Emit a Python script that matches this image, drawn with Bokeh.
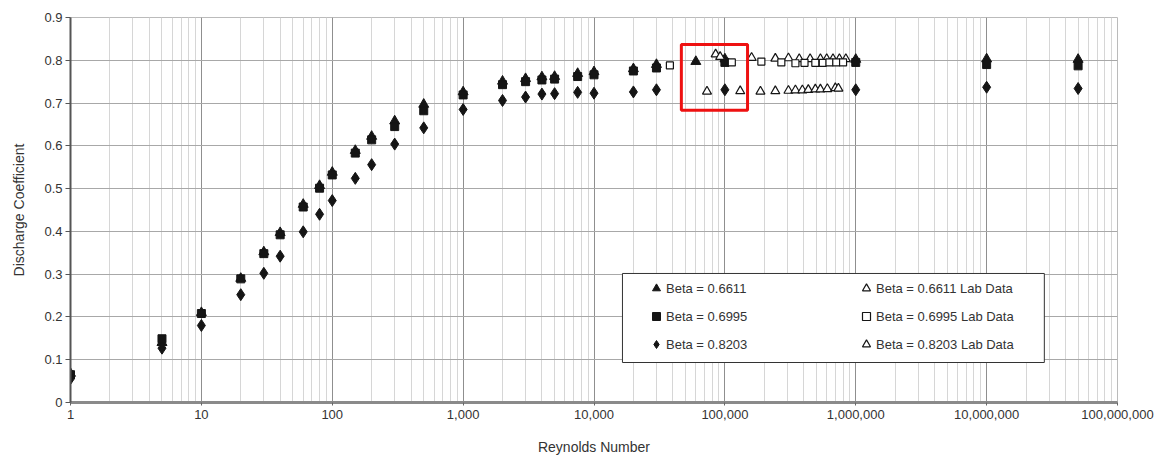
from bokeh.plotting import figure
from bokeh.models import (Range1d, FixedTicker, NumeralTickFormatter, Legend,
                          LegendItem, BoxAnnotation)
from bokeh.embed import file_html
from bokeh.resources import INLINE

# ---------------- data ----------------
re_0661 = [1, 5, 10, 20, 30, 40, 60, 80, 100, 150, 200, 300, 500, 1000, 2000, 3000,
           4000, 5000, 7500, 10000, 20000, 30000, 60000, 100000, 1e6, 1e7, 5e7]
cd_0661 = [0.068, 0.140, 0.210, 0.290, 0.352, 0.397, 0.463, 0.507, 0.538, 0.589, 0.622,
           0.658, 0.697, 0.726, 0.751, 0.757, 0.761, 0.762, 0.769, 0.773, 0.780, 0.790,
           0.797, 0.803, 0.802, 0.803, 0.802]

re_06995 = [1, 5, 10, 20, 30, 40, 60, 80, 100, 150, 200, 300, 500, 1000, 2000, 3000,
            4000, 5000, 7500, 10000, 20000, 30000, 100000, 1e6, 1e7, 5e7]
cd_06995 = [0.065, 0.149, 0.208, 0.289, 0.348, 0.392, 0.457, 0.501, 0.532, 0.583, 0.614,
            0.645, 0.682, 0.719, 0.743, 0.750, 0.754, 0.756, 0.762, 0.766, 0.775, 0.782,
            0.795, 0.795, 0.790, 0.787]

re_08203 = [1, 5, 10, 20, 30, 40, 60, 80, 100, 150, 200, 300, 500, 1000, 2000, 3000,
            4000, 5000, 7500, 10000, 20000, 30000, 100000, 1e6, 1e7, 5e7]
cd_08203 = [0.056, 0.127, 0.180, 0.252, 0.302, 0.342, 0.399, 0.440, 0.472, 0.524, 0.556,
            0.604, 0.642, 0.685, 0.706, 0.714, 0.721, 0.722, 0.725, 0.723, 0.726, 0.731,
            0.731, 0.731, 0.737, 0.734]

lab_re_0661 = [85000, 92000, 160000, 243000, 306000, 370000, 448000, 537000, 600000,
               670000, 750000, 840000]
lab_cd_0661 = [0.814, 0.808, 0.806, 0.804, 0.805, 0.803, 0.803, 0.803, 0.803, 0.803,
               0.803, 0.803]

lab_re_06995 = [38000, 113000, 190000, 270000, 346000, 406000, 491000, 560000, 630000,
                710000, 800000]
lab_cd_06995 = [0.788, 0.795, 0.797, 0.795, 0.793, 0.794, 0.794, 0.794, 0.795, 0.795, 0.795]

lab_re_08203 = [73000, 131000, 187000, 243000, 306000, 346000, 391000, 434000, 491000,
                537000, 607000, 698000, 737000]
lab_cd_08203 = [0.727, 0.728, 0.727, 0.728, 0.729, 0.730, 0.730, 0.731, 0.732, 0.732,
                0.733, 0.735, 0.734]

x_major_ticks = [1, 10, 100, 1000, 10000, 100000, 1000000, 10000000, 100000000]
y_ticks = [0, 0.1, 0.2, 0.3, 0.4, 0.5, 0.6, 0.7, 0.8, 0.9]

legend_col1 = ["Beta = 0.6611", "Beta = 0.6995", "Beta = 0.8203"]
legend_col2 = ["Beta = 0.6611 Lab Data", "Beta = 0.6995 Lab Data", "Beta = 0.8203 Lab Data"]

# highlight / legend frame extents (data units)
highlight_x = (4.65e4, 1.49e5)
highlight_y = (0.683, 0.837)
legend_box_x = (1.65e4, 2.76e7)
legend_box_y = (0.0935, 0.3016)

FONT = "Liberation Sans"
TXT = "#333333"

p = figure(width=1171, height=457, x_axis_type="log",
           x_range=Range1d(1, 1e8), y_range=Range1d(0, 0.9),
           min_border_left=70, min_border_right=54, min_border_top=17,
           min_border_bottom=55, output_backend="svg", toolbar_location=None)
p.outline_line_color = "#bbbbbb"
p.outline_line_alpha = 1.0
p.background_fill_color = "white"

minor = [m * 10 ** k for k in range(8) for m in range(2, 10)]
p.xaxis.ticker = FixedTicker(ticks=x_major_ticks, minor_ticks=minor)
p.xaxis.formatter = NumeralTickFormatter(format="0,0")
p.yaxis.ticker = FixedTicker(ticks=y_ticks)
p.yaxis.major_label_overrides = {0: "0"}

p.xgrid.grid_line_color = "#8f8f8f"
p.xgrid.grid_line_alpha = 1.0
p.xgrid.minor_grid_line_color = "#d6d6d6"
p.ygrid.grid_line_color = "#a8a8a8"
p.ygrid.grid_line_alpha = 1.0

for ax in (p.xaxis, p.yaxis):
    ax.minor_tick_line_color = None
    ax.major_label_text_font = FONT
    ax.major_label_text_font_size = "13px"
    ax.major_label_text_color = TXT
    ax.axis_label_text_font = FONT
    ax.axis_label_text_font_size = "14px"
    ax.axis_label_text_font_style = "normal"
    ax.axis_label_text_color = TXT
    ax.major_tick_in = 0

p.xaxis.axis_line_color = "#8a8a8a"
p.xaxis.axis_line_width = 3
p.xaxis.major_tick_line_color = "#666666"
p.xaxis.major_tick_out = 3
p.xaxis.major_label_standoff = 3
p.xaxis.axis_label = "Reynolds Number"
p.xaxis.axis_label_standoff = 17

p.yaxis.axis_line_color = "#555555"
p.yaxis.axis_line_width = 2
p.yaxis.major_tick_line_color = "#555555"
p.yaxis.major_tick_out = 5
p.yaxis.major_label_standoff = 3
p.yaxis.axis_label = "Discharge Coefficient"
p.yaxis.axis_label_standoff = 14

INK = "#151515"
r1 = p.scatter(re_0661, cd_0661, marker="triangle", size=10, color=INK)
r2 = p.scatter(re_06995, cd_06995, marker="square", size=8, color=INK)
r3 = p.scatter(re_08203, cd_08203, marker="diamond", size=12, color=INK)
r4 = p.scatter(lab_re_0661, lab_cd_0661, marker="triangle", size=9,
               line_color=INK, fill_color="white", line_width=1.2)
r5 = p.scatter(lab_re_06995, lab_cd_06995, marker="square", size=7,
               line_color=INK, fill_color="white", line_width=1.2)
r6 = p.scatter(lab_re_08203, lab_cd_08203, marker="triangle", size=9,
               line_color=INK, fill_color="white", line_width=1.2)

p.add_layout(BoxAnnotation(left=legend_box_x[0], right=legend_box_x[1],
                           bottom=legend_box_y[0], top=legend_box_y[1],
                           fill_color="white", fill_alpha=1.0,
                           line_color="#333333", line_alpha=1.0, line_width=1,
                           level="annotation"))
p.add_layout(BoxAnnotation(left=highlight_x[0], right=highlight_x[1],
                           bottom=highlight_y[0], top=highlight_y[1],
                           fill_alpha=0, line_color="#ee1111", line_alpha=1.0,
                           line_width=3))


def make_legend(labels, rends, loc):
    lg = Legend(items=[LegendItem(label=l, renderers=[r]) for l, r in zip(labels, rends)],
                location=loc, padding=0, margin=0, spacing=8,
                glyph_width=20, glyph_height=20, label_height=20,
                label_standoff=0, border_line_alpha=0, background_fill_alpha=0,
                label_text_font=FONT, label_text_font_size="13px",
                label_text_color=TXT)
    return lg


p.add_layout(make_legend(legend_col1, [r1, r2, r3], (576, 48)))
p.add_layout(make_legend(legend_col2, [r4, r5, r6], (786, 48)))

open("out.html", "w").write(file_html(p, INLINE))
